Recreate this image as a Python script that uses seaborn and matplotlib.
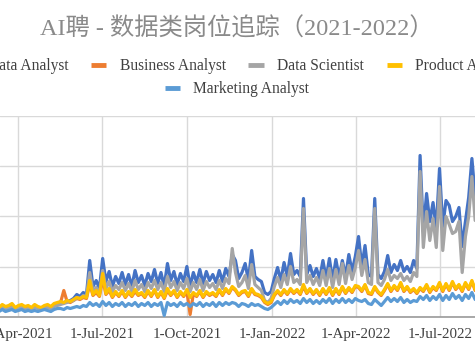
import numpy as np
import pandas as pd
import matplotlib
matplotlib.use("Agg")
import matplotlib.pyplot as plt
import matplotlib.dates as mdates
from matplotlib.lines import Line2D
import seaborn as sns

# ---------------- data (half-weekly samples) -------------
start_date = "2021-03-08"
n_points = 150
dates = pd.date_range(start_date, periods=n_points, freq="84h")

data_analyst = [
    9, 8, 10, 8, 9, 11, 8, 9, 10, 8,
    9, 8, 10, 9, 8, 9, 10, 9, 11, 12,
    13, 14, 15, 16, 18,
    22, 20, 24, 22, 56,
    30, 36, 28, 58, 35, 45, 30, 40, 33, 44,
    32, 42, 30, 46, 34, 41, 31, 43, 35, 47,
    33, 44, 30, 53, 36, 45, 32, 43, 35, 50,
    30, 44, 34, 47, 33, 45, 36, 42, 34, 46,
    35, 48, 40,
    62, 56, 38, 44, 53, 36, 66,
    40, 37, 35, 24, 22, 25, 38, 49, 36, 54,
    40, 63, 42, 46, 40, 118, 42, 51, 40, 48,
    38, 56, 38, 58, 36, 57, 39, 56, 40, 62,
    45, 60, 80, 50, 71, 42, 40, 118, 42, 38,
    45, 61, 44, 52, 46, 56, 45, 50, 44, 56,
    48, 161, 85, 123, 95, 114, 88, 148, 90, 116,
    111, 95, 100, 109, 70, 95, 119, 158, 120, 110,
]
business_analyst = [
    10, 8, 11, 9, 10, 12, 8, 10, 11, 9,
    10, 8, 11, 9, 8, 10, 11, 9, 12, 13,
    14, 26, 15, 14, 16,
    18, 17, 19, 18, 33,
    21, 24, 20, 38, 22, 26, 19, 24, 20, 25,
    19, 24, 20, 25, 21, 23, 19, 25, 20, 26,
    19, 24, 18, 26, 21, 25, 19, 24, 20, 25,
    2, 23, 20, 25, 19, 24, 21, 23, 20, 26,
    21, 27, 23,
    29, 26, 21, 24, 25, 20, 27,
    22, 21, 19, 14, 12, 14, 21, 25, 21, 26,
    22, 27, 23, 26, 22, 30, 23, 27, 22, 26,
    21, 27, 22, 28, 21, 27, 22, 29, 23, 28,
    24, 30, 29, 25, 31, 23, 22, 29, 24, 21,
    26, 32, 25, 30, 26, 33, 25, 29, 24, 27,
    23, 28, 25, 31, 24, 29, 26, 33, 25, 32,
    26, 34, 27, 31, 25, 33, 27, 35, 26, 32,
]
data_scientist = [
    8, 7, 9, 7, 8, 9, 7, 8, 9, 7,
    8, 7, 9, 8, 7, 8, 9, 8, 10, 11,
    12, 13, 14, 15, 16,
    19, 18, 21, 20, 44,
    25, 29, 23, 46, 28, 35, 25, 31, 27, 34,
    26, 33, 25, 36, 27, 32, 25, 34, 28, 36,
    27, 34, 25, 40, 29, 35, 26, 34, 28, 38,
    25, 34, 27, 37, 26, 35, 29, 33, 27, 36,
    28, 38, 33,
    68, 44, 30, 34, 41, 28, 52,
    32, 29, 26, 16, 14, 18, 30, 39, 29, 42,
    32, 50, 34, 37, 32, 108, 34, 41, 32, 39,
    31, 46, 31, 48, 29, 47, 32, 53, 33, 51,
    37, 49, 66, 41, 57, 34, 32, 108, 34, 31,
    37, 47, 36, 41, 38, 43, 36, 40, 35, 44,
    40, 145, 69, 105, 76, 98, 69, 130, 66, 100,
    92, 83, 85, 95, 44, 80, 100, 140, 96, 96,
]
product_analyst = [
    11, 9, 12, 10, 11, 13, 9, 11, 12, 10,
    11, 9, 12, 10, 9, 11, 12, 10, 13, 14,
    15, 14, 16, 15, 17,
    19, 18, 20, 19, 36,
    22, 26, 21, 43, 23, 28, 20, 25, 21, 26,
    20, 25, 21, 27, 22, 24, 20, 26, 21, 27,
    20, 25, 19, 28, 22, 26, 20, 25, 21, 27,
    19, 24, 21, 26, 20, 25, 22, 24, 21, 27,
    22, 28, 24,
    30, 27, 22, 25, 26, 21, 28,
    23, 22, 20, 15, 13, 15, 22, 26, 22, 27,
    23, 28, 24, 27, 23, 32, 24, 28, 23, 27,
    22, 28, 23, 29, 22, 28, 23, 30, 24, 29,
    25, 31, 30, 26, 32, 24, 23, 30, 25, 22,
    27, 33, 26, 31, 27, 34, 26, 30, 25, 28,
    24, 29, 26, 32, 25, 30, 27, 34, 26, 33,
    27, 35, 28, 32, 26, 34, 28, 36, 27, 33,
]
marketing_analyst = [
    6, 5, 7, 5, 6, 7, 5, 6, 7, 5,
    6, 5, 6, 5, 6, 7, 6, 5, 7, 8,
    8, 7, 9, 8, 9,
    10, 9, 11, 10, 14,
    11, 13, 10, 15, 11, 14, 10, 13, 11, 14,
    10, 13, 11, 14, 10, 13, 11, 14, 10, 13,
    11, 14, 1, 14, 11, 13, 10, 14, 11, 13,
    10, 13, 11, 14, 10, 13, 11, 14, 10, 14,
    11, 14, 12,
    14, 13, 10, 13, 12, 10, 13,
    11, 12, 10, 8, 7, 9, 12, 15, 12, 16,
    13, 17, 14, 16, 13, 18, 14, 17, 13, 16,
    13, 17, 14, 18, 13, 17, 14, 18, 14, 17,
    14, 18, 16, 15, 17, 13, 12, 17, 14, 11,
    15, 19, 15, 18, 15, 19, 14, 17, 14, 16,
    15, 20, 17, 21, 16, 20, 17, 22, 16, 21,
    17, 23, 18, 21, 16, 22, 18, 24, 17, 21,
]

series_names = ["Data Analyst", "Business Analyst", "Data Scientist",
                "Product Analyst", "Marketing Analyst"]
series_values = [data_analyst, business_analyst, data_scientist,
                 product_analyst, marketing_analyst]
colors = ["#4472C4", "#ED7D31", "#A5A5A5", "#FFC000", "#5B9BD5"]

tick_dates = ["2021-04-01", "2021-07-01", "2021-10-01",
              "2022-01-01", "2022-04-01", "2022-07-01"]
tick_labels = ["1-Apr-2021", "1-Jul-2021", "1-Oct-2021",
               "1-Jan-2022", "1-Apr-2022", "1-Jul-2022"]
title = "AI聘 - 数据类岗位追踪（2021-2022）"

# ---------------- figure -------------------------------------------------------
sns.set_theme(style="white")
plt.rcParams["font.family"] = ["Liberation Serif", "Noto Sans CJK SC", "DejaVu Sans"]

df = pd.concat([
    pd.DataFrame({"date": dates, "value": vals, "series": name})
    for name, vals in zip(series_names, series_values)
], ignore_index=True)

W, H = 475, 356
fig = plt.figure(figsize=(W / 100, H / 100), dpi=100)
ax_bottom_px, ax_top_px = 316.5, 116.5
ax = fig.add_axes([0, (H - ax_bottom_px) / H, 1, (ax_bottom_px - ax_top_px) / H])

sns.lineplot(data=df, x="date", y="value", hue="series", hue_order=series_names,
             palette=colors, linewidth=2.3, legend=False, ax=ax, zorder=3)

# x range shown in the crop
apr1 = mdates.date2num(pd.Timestamp("2021-04-01"))
px_per_day = 0.9254
ax.set_xlim(apr1 - 18 / px_per_day, apr1 + (W - 18) / px_per_day)
ax.set_ylim(0, 200)
ax.set_yticks([0, 50, 100, 150, 200])
ax.set_yticklabels([])
ax.set_xticks([mdates.date2num(pd.Timestamp(d)) for d in tick_dates])
ax.set_xticklabels(tick_labels)
ax.set_xlabel("")
ax.set_ylabel("")

ax.grid(True, color="#D9D9D9", linewidth=1.0, zorder=0)
ax.tick_params(axis="both", length=0)
ax.tick_params(axis="x", pad=8.5, labelsize=10.8, labelcolor="#404040")
for side in ["left", "right", "top"]:
    ax.spines[side].set_visible(False)
ax.spines["bottom"].set_color("#9A9A9A")
ax.spines["bottom"].set_linewidth(1.2)

# title
fig.text(237 / W, 1 - 29 / H, title, ha="center", va="center", fontsize=17.5,
         color="#8A8A8A")

# legend (Excel style: 4 items on first row, 1 centred on second row)
handles = [Line2D([0], [0], color=c, lw=3.5, solid_capstyle="butt") for c in colors]
leg_kw = dict(frameon=False, fontsize=11.2, handlelength=1.0, handletextpad=0.85,
              columnspacing=1.45, labelcolor="#404040", loc="center")
leg1 = fig.legend(handles[:4], series_names[:4], ncol=4,
                  bbox_to_anchor=(237 / W, 1 - 66 / H), **leg_kw)
leg2 = fig.legend(handles[4:], series_names[4:], ncol=1,
                  bbox_to_anchor=(237 / W, 1 - 89 / H), **leg_kw)

fig.savefig("out.png", dpi=100)
